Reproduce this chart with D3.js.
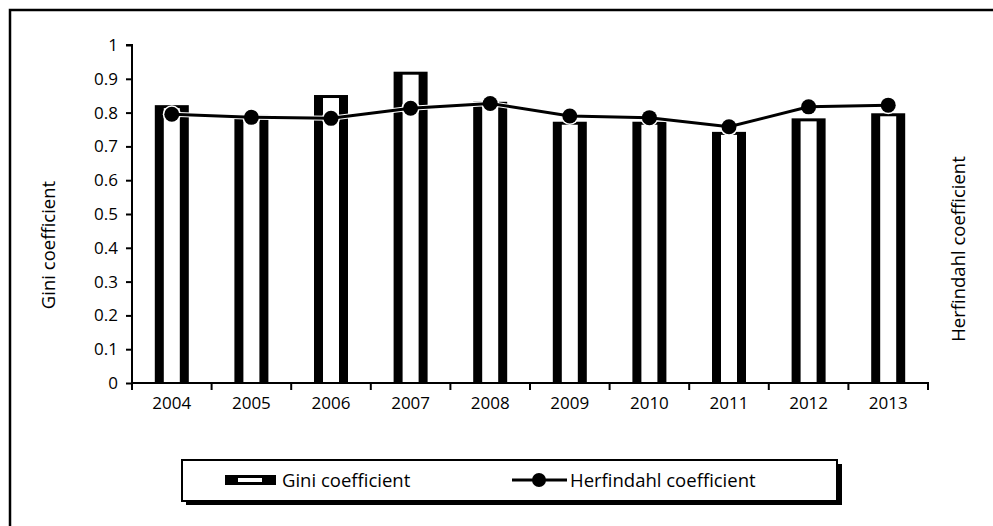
<!DOCTYPE html>
<html>
<head>
<meta charset="utf-8">
<script src="https://cdn.jsdelivr.net/npm/d3@7"></script>
<style>
  html, body { margin: 0; padding: 0; background: #fff; }
  svg { display: block; }
  text { font-family: "Open Sans", sans-serif; fill: #000; }
</style>
</head>
<body>
<svg id="chart" width="993" height="526"></svg>
<script>
const years = ["2004","2005","2006","2007","2008","2009","2010","2011","2012","2013"];
const gini = [0.822, 0.793, 0.852, 0.921, 0.832, 0.773, 0.773, 0.743, 0.783, 0.798];
const herfindahl = [0.795, 0.786, 0.783, 0.813, 0.827, 0.79, 0.785, 0.758, 0.817, 0.822];
const yTicks = [0, 0.1, 0.2, 0.3, 0.4, 0.5, 0.6, 0.7, 0.8, 0.9, 1];
const yTickLabels = ["0","0.1","0.2","0.3","0.4","0.5","0.6","0.7","0.8","0.9","1"];
const seriesNames = ["Gini coefficient", "Herfindahl coefficient"];

const svg = d3.select("#chart");

// outer frame (only top & left visible)
svg.append("rect").attr("x", 10).attr("y", 10).attr("width", 1000).attr("height", 600)
  .attr("fill", "none").attr("stroke", "#000").attr("stroke-width", 2.5);

const pL = 132, pR = 928, pT = 45, pB = 383;
const x = d3.scaleBand().domain(years).range([pL, pR]).paddingInner(0).paddingOuter(0);
const y = d3.scaleLinear().domain([0, 1]).range([pB, pT]);

// y axis
const yAxis = d3.axisLeft(y).tickValues(yTicks).tickSize(6).tickPadding(8)
  .tickFormat((d, i) => yTickLabels[i]);
const gy = svg.append("g").attr("transform", `translate(${pL},0)`).call(yAxis);
gy.select(".domain").attr("stroke-width", 2).attr("d", `M-6,${pT}H0V${pB}`);
gy.selectAll(".tick line").attr("stroke-width", 2);
gy.selectAll("text").style("font-size", "17px").style("font-family", "Open Sans, sans-serif");

// x axis
const xAxis = d3.axisBottom(x).tickSize(0).tickPadding(14);
const gx = svg.append("g").attr("transform", `translate(0,${pB})`).call(xAxis);
gx.select(".domain").attr("stroke-width", 2).attr("d", `M${pL},0H${pR}V7`);
gx.selectAll("text").style("font-size", "17px").style("font-family", "Open Sans, sans-serif");
// band boundary ticks
const bounds = years.map(d => x(d)).concat([pR]);
gx.selectAll(".btick").data(bounds).enter().append("line").attr("class", "btick")
  .attr("x1", d => d).attr("x2", d => d).attr("y1", 0).attr("y2", 7)
  .attr("stroke", "#000").attr("stroke-width", 2);

// bars
const bw = 34, side = 9, topT = 3;
const bars = svg.append("g");
years.forEach((yr, i) => {
  const cx = x(yr) + x.bandwidth() / 2;
  const yt = y(gini[i]);
  bars.append("rect").attr("x", cx - bw / 2).attr("y", yt).attr("width", bw).attr("height", pB - yt).attr("fill", "#000");
  bars.append("rect").attr("x", cx - bw / 2 + side).attr("y", yt + topT).attr("width", bw - 2 * side).attr("height", pB - yt - topT - 1).attr("fill", "#fff");
});

// line with white halo
const pts = years.map((yr, i) => [x(yr) + x.bandwidth() / 2, y(herfindahl[i])]);
const line = d3.line();
svg.append("path").attr("d", line(pts)).attr("fill", "none").attr("stroke", "#fff").attr("stroke-width", 5);
svg.selectAll(".halo").data(pts).enter().append("circle").attr("class", "halo")
  .attr("cx", d => d[0]).attr("cy", d => d[1]).attr("r", 9).attr("fill", "#fff");
svg.append("path").attr("d", line(pts)).attr("fill", "none").attr("stroke", "#000").attr("stroke-width", 3);
svg.selectAll(".dot").data(pts).enter().append("circle").attr("class", "dot")
  .attr("cx", d => d[0]).attr("cy", d => d[1]).attr("r", 7.5).attr("fill", "#000");

// axis titles
svg.append("text").attr("transform", `translate(55,${(pT + pB) / 2 + 31}) rotate(-90)`)
  .attr("text-anchor", "middle").style("font-size", "18.5px").text(seriesNames[0]);
svg.append("text").attr("transform", `translate(965,${(pT + pB) / 2 + 35}) rotate(-90)`)
  .attr("text-anchor", "middle").style("font-size", "18.5px").text(seriesNames[1]);

// legend
const lg = svg.append("g");
lg.append("rect").attr("x", 186).attr("y", 464).attr("width", 656).attr("height", 41).attr("fill", "#000");
lg.append("rect").attr("x", 182).attr("y", 460).attr("width", 655).attr("height", 41)
  .attr("fill", "#fff").attr("stroke", "#000").attr("stroke-width", 2);
// gini swatch
lg.append("rect").attr("x", 225).attr("y", 475).attr("width", 51).attr("height", 10).attr("fill", "#000");
lg.append("rect").attr("x", 238).attr("y", 478).attr("width", 24).attr("height", 4).attr("fill", "#fff");
lg.append("text").attr("x", 282).attr("y", 487).style("font-size", "18.5px").text(seriesNames[0]);
// herfindahl swatch
lg.append("line").attr("x1", 512).attr("x2", 567).attr("y1", 480).attr("y2", 480).attr("stroke", "#000").attr("stroke-width", 3);
lg.append("circle").attr("cx", 539).attr("cy", 480).attr("r", 7).attr("fill", "#000");
lg.append("text").attr("x", 570).attr("y", 487).style("font-size", "18.5px").text(seriesNames[1]);
</script>
</body>
</html>
